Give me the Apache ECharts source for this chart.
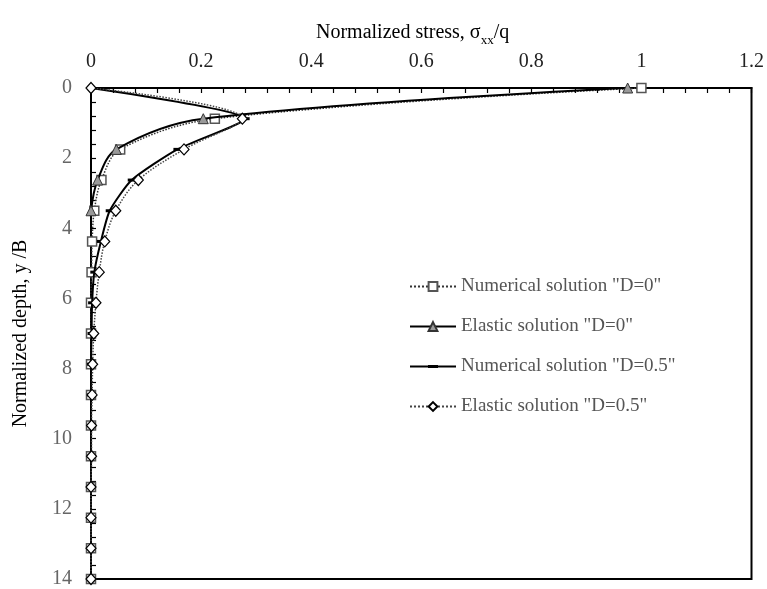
<!DOCTYPE html>
<html>
<head>
<meta charset="utf-8">
<script src="https://cdn.jsdelivr.net/npm/echarts@6/dist/echarts.min.js"></script>
<style>
  html, body { margin: 0; padding: 0; background: #fff; }
  #chart { width: 767px; height: 589px; }
</style>
</head>
<body>
<div id="chart"></div>
<script>
// depth points, y/B
var depth = [0, 0.875, 1.75, 2.625, 3.5, 4.375, 5.25, 6.125, 7, 7.875, 8.75, 9.625, 10.5, 11.375, 12.25, 13.125, 14];
// normalized stress per series
var numD0 = [1.0, 0.225, 0.053, 0.019, 0.006, 0.002, 0.001, 0, 0, 0, 0, 0, 0, 0, 0, 0, 0];
var elaD0 = [0.975, 0.204, 0.046, 0.012, 0.0];
var numD05 = [0, 0.281, 0.157, 0.074, 0.034, 0.018, 0.006, 0.002, 0.001, 0, 0, 0, 0, 0, 0, 0, 0];
var elaD05 = [0, 0.275, 0.169, 0.086, 0.045, 0.025, 0.015, 0.009, 0.005, 0.003, 0.002, 0.001, 0.001, 0, 0, 0, 0];
var seriesNames = ['Numerical solution "D=0"', 'Elastic solution "D=0"', 'Numerical solution "D=0.5"', 'Elastic solution "D=0.5"'];

var FONT = '"Liberation Serif", "Times New Roman", serif';

function pairs(vals) {
    var out = [];
    for (var i = 0; i < vals.length; i++) {
        out.push([vals[i], depth[i]]);
    }
    return out;
}

var chart = echarts.init(document.getElementById('chart'));
var option = {
    animation: false,
    backgroundColor: '#fff',
    textStyle: { fontFamily: FONT },
    title: {
        text: 'Normalized stress, σ{sub|xx}/q',
        left: 311,
        top: 14,
        textStyle: {
            fontFamily: FONT, fontSize: 20, fontWeight: 'normal', color: '#000', lineHeight: 28,
            rich: { sub: { fontFamily: FONT, fontSize: 13, verticalAlign: 'bottom', lineHeight: 28, color: '#000' } }
        }
    },
    grid: { left: 91, top: 88, right: 14, bottom: 7, show: true, borderColor: '#000', borderWidth: 2 },
    legend: {
        orient: 'vertical',
        left: 404,
        top: 272,
        itemGap: 21,
        itemWidth: 46,
        itemHeight: 11,
        textStyle: { fontFamily: FONT, fontSize: 19, color: '#555' },
        data: [
            seriesNames[0],
            seriesNames[1],
            // line with a short thick dash in the middle
            { name: seriesNames[2], icon: 'path://M0,4.5H46V6.5H0Z M18,4H28V7H18Z' },
            seriesNames[3]
        ]
    },
    xAxis: {
        type: 'value',
        position: 'top',
        min: 0, max: 1.2, interval: 0.2,
        axisLine: { show: true, lineStyle: { color: '#000', width: 2 } },
        axisTick: { show: true, inside: true, length: 5, lineStyle: { color: '#000', width: 1.2 } },
        minorTick: { show: true, splitNumber: 5, length: 5, lineStyle: { color: '#000', width: 1.2 } },
        splitLine: { show: false },
        axisLabel: { margin: 16, fontFamily: FONT, fontSize: 20, color: '#222' }
    },
    yAxis: {
        type: 'value',
        inverse: true,
        min: 0, max: 14, interval: 2,
        name: 'Normalized depth, y /B',
        nameLocation: 'middle',
        nameRotate: 90,
        nameGap: 60,
        nameTextStyle: { fontFamily: FONT, fontSize: 20, color: '#000' },
        axisLine: { show: true, lineStyle: { color: '#000', width: 2 } },
        axisTick: { show: true, inside: true, length: 5, lineStyle: { color: '#000', width: 1.2 } },
        minorTick: { show: true, splitNumber: 5, length: 5, lineStyle: { color: '#000', width: 1.2 } },
        splitLine: { show: false },
        axisLabel: { margin: 19, fontFamily: FONT, fontSize: 20, color: '#666' }
    },
    series: [
        {
            name: seriesNames[0], type: 'line', smooth: 0.35, showAllSymbol: true, z: 2,
            data: pairs(numD0),
            symbol: 'rect', symbolSize: 9,
            itemStyle: { color: '#fff', borderColor: '#555', borderWidth: 1.5 },
            lineStyle: { color: '#333', width: 1.5, type: 'dotted' }
        },
        {
            name: seriesNames[1], type: 'line', smooth: 0.35, showAllSymbol: true, z: 3,
            data: pairs(elaD0),
            symbol: 'triangle', symbolSize: 10,
            itemStyle: { color: '#999', borderColor: '#333', borderWidth: 1 },
            lineStyle: { color: '#000', width: 2, type: 'solid' }
        },
        {
            name: seriesNames[2], type: 'line', smooth: 0.2, showAllSymbol: true, z: 4,
            data: pairs(numD05),
            symbol: 'rect', symbolSize: [8, 3],
            itemStyle: { color: '#000', borderColor: '#000', borderWidth: 0 },
            lineStyle: { color: '#000', width: 2, type: 'solid' }
        },
        {
            name: seriesNames[3], type: 'line', smooth: 0.35, showAllSymbol: true, z: 5,
            data: pairs(elaD05),
            symbol: 'diamond', symbolSize: [10, 11],
            itemStyle: { color: '#fff', borderColor: '#000', borderWidth: 1.2 },
            lineStyle: { color: '#444', width: 1.5, type: 'dotted' }
        }
    ]
};
chart.setOption(option);
</script>
</body>
</html>
